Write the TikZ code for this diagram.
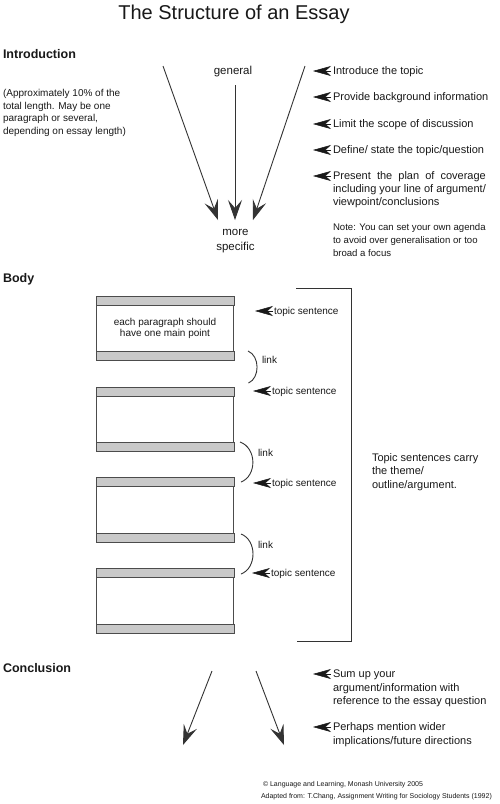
\documentclass[tikz,border=0pt]{standalone}
\usepackage{fontspec}
\setmainfont{Liberation Sans}
\usetikzlibrary{arrows.meta}
\definecolor{ink}{gray}{0.1}
\definecolor{linec}{gray}{0.2}
\definecolor{boxline}{gray}{0.3}
\definecolor{bandgray}{gray}{0.79}
\newlength\planw
\newcommand\essaypara[2]{%
  \node[pbox, anchor=north] (#1) at (165,#2) {};
  \filldraw[band] (#1.north west) rectangle ([yshift=-9pt]#1.north east);
  \filldraw[band] (#1.south west) rectangle ([yshift=9pt]#1.south east);
}
\begin{document}
\begin{tikzpicture}[x=1pt,y=-1pt,
  txt/.style={anchor=base west, inner sep=0pt, outer sep=0pt, text=ink, align=left},
  item/.style={txt, font=\fontsize{11}{13}\selectfont},
  small/.style={txt, font=\fontsize{10}{12.5}\selectfont},
  head/.style={txt, font=\fontsize{12.5}{15}\selectfont\bfseries},
  big/.style={linec, line width=0.9pt, -{Stealth[length=20pt,width=14pt,inset=8pt]}},
  ptr/.style={ink, line width=0.5pt, -{Stealth[length=18pt,width=10pt,inset=5.5pt]}},
  pbox/.style={draw=boxline, line width=1pt, minimum width=137pt, minimum height=63.5pt, inner sep=0pt},
  band/.style={fill=bandgray, draw=boxline, line width=1pt},
  linkc/.style={linec, line width=0.9pt},
  brk/.style={linec, line width=0.9pt}
]
\useasboundingbox (0,0) rectangle (500,804);
\fill[white] (0,0) rectangle (500,804);

% title
\node[txt, anchor=base, font=\fontsize{20}{24}\selectfont] (title) at (234,19) {The Structure of an Essay};

% ---------- Introduction ----------
% (multi-line nodes: the base anchor is the baseline of the last line)
\node[head] (intro) at (3,58.5) {Introduction};
\node[small] (introNote) at (3,134) {(Approximately 10\% of the\\total length. May be one\\paragraph or several,\\depending on essay length)};

\node[txt, anchor=base, font=\fontsize{11.5}{14}\selectfont] (general) at (233,74.5) {general};
\node[txt, anchor=base, align=center, font=\fontsize{11.5}{15}\selectfont] (specific) at (235.5,250) {more\\specific};

\coordinate (fl0) at (163,66);  \coordinate (fl1) at (218,220);
\coordinate (fm0) at (235,85);  \coordinate (fm1) at (235,220);
\coordinate (fr0) at (305,66);  \coordinate (fr1) at (253,220);
\draw[big] (fl0) -- (fl1);
\draw[big] (fm0) -- (fm1);
\draw[big] (fr0) -- (fr1);

\node[item] (i1) at (333,74.5) {Introduce the topic};
\node[item] (i2) at (333,100.5) {Provide background information};
\node[item] (i3) at (333,127.5) {Limit the scope of discussion};
\node[item] (i4) at (333,153.5) {Define/ state the topic/question};
\node[item] (i5) at (333,205.5) {\settowidth\planw{including your line of argument/}\makebox[\planw][s]{Present the plan of coverage}\\including your line of argument/\\viewpoint/conclusions};
\node[txt, font=\fontsize{9.6}{13}\selectfont] (note) at (333,256.5) {Note: You can set your own agenda\\to avoid over generalisation or too\\broad a focus};
\foreach \n in {i1,i2,i3,i4}
  \draw[ptr] ([xshift=-2pt,yshift=3.5pt]\n.base west) -- ++(-18,0);
\draw[ptr] ([xshift=-2pt,yshift=29.5pt]i5.base west) -- ++(-18,0);

% ---------- Body ----------
\node[head] (body) at (3,282) {Body};

\essaypara{p1}{296}
\essaypara{p2}{387}
\essaypara{p3}{477.5}
\essaypara{p4}{568.5}
\node[txt, anchor=base, align=center, font=\fontsize{10}{11.5}\selectfont] (ptext) at (165,336.5) {each paragraph should\\have one main point};

\node[small] (t1) at (274,314) {topic sentence};
\node[small] (t2) at (272,394) {topic sentence};
\node[small] (t3) at (272,486) {topic sentence};
\node[small] (t4) at (271,576) {topic sentence};
\foreach \n in {t1,t2,t3,t4}
  \draw[ptr] ([xshift=-1pt,yshift=3pt]\n.base west) -- ++(-18,0);

\coordinate (l1a) at (248,351); \coordinate (l1b) at (248.5,383);
\coordinate (l2a) at (240,442); \coordinate (l2b) at (241,482);
\coordinate (l3a) at (241,534); \coordinate (l3b) at (241,574);
\draw[linkc] (l1a) .. controls (260,356) and (260,378) .. (l1b);
\draw[linkc] (l2a) .. controls (257,448) and (257,476) .. (l2b);
\draw[linkc] (l3a) .. controls (257,540) and (257,568) .. (l3b);
\node[small] (k1) at (262,363) {link};
\node[small] (k2) at (258,456) {link};
\node[small] (k3) at (258,548) {link};

\coordinate (b1) at (296,288); \coordinate (b2) at (351,288);
\coordinate (b3) at (351,641); \coordinate (b4) at (297,641);
\draw[brk] (b1) -- (b2) -- (b3) -- (b4);
\node[txt, font=\fontsize{11}{13.3}\selectfont] (theme) at (372,488) {Topic sentences carry\\the theme/\\outline/argument.};

% ---------- Conclusion ----------
\node[head] (concl) at (3,672.5) {Conclusion};
\coordinate (cl0) at (212,671); \coordinate (cl1) at (183,745);
\coordinate (cr0) at (256,671); \coordinate (cr1) at (284,745);
\draw[big] (cl0) -- (cl1);
\draw[big] (cr0) -- (cr1);

\node[txt, font=\fontsize{11}{13.5}\selectfont] (c1) at (333,704.5) {Sum up your\\argument/information with\\reference to the essay question};
\node[txt, font=\fontsize{11}{14}\selectfont] (c2) at (333,744.5) {Perhaps mention wider\\implications/future directions};
\draw[ptr] ([xshift=-2pt,yshift=30.5pt]c1.base west) -- ++(-18,0);
\draw[ptr] ([xshift=-2pt,yshift=17.5pt]c2.base west) -- ++(-18,0);

\node[txt, font=\fontsize{7}{8}\selectfont] (copy1) at (263,786.5) {\textcopyright{} Language and Learning, Monash University 2005};
\node[txt, font=\fontsize{7}{8}\selectfont] (copy2) at (261,798.5) {Adapted from: T.Chang, Assignment Writing for Sociology Students (1992)};
\end{tikzpicture}
\end{document}
